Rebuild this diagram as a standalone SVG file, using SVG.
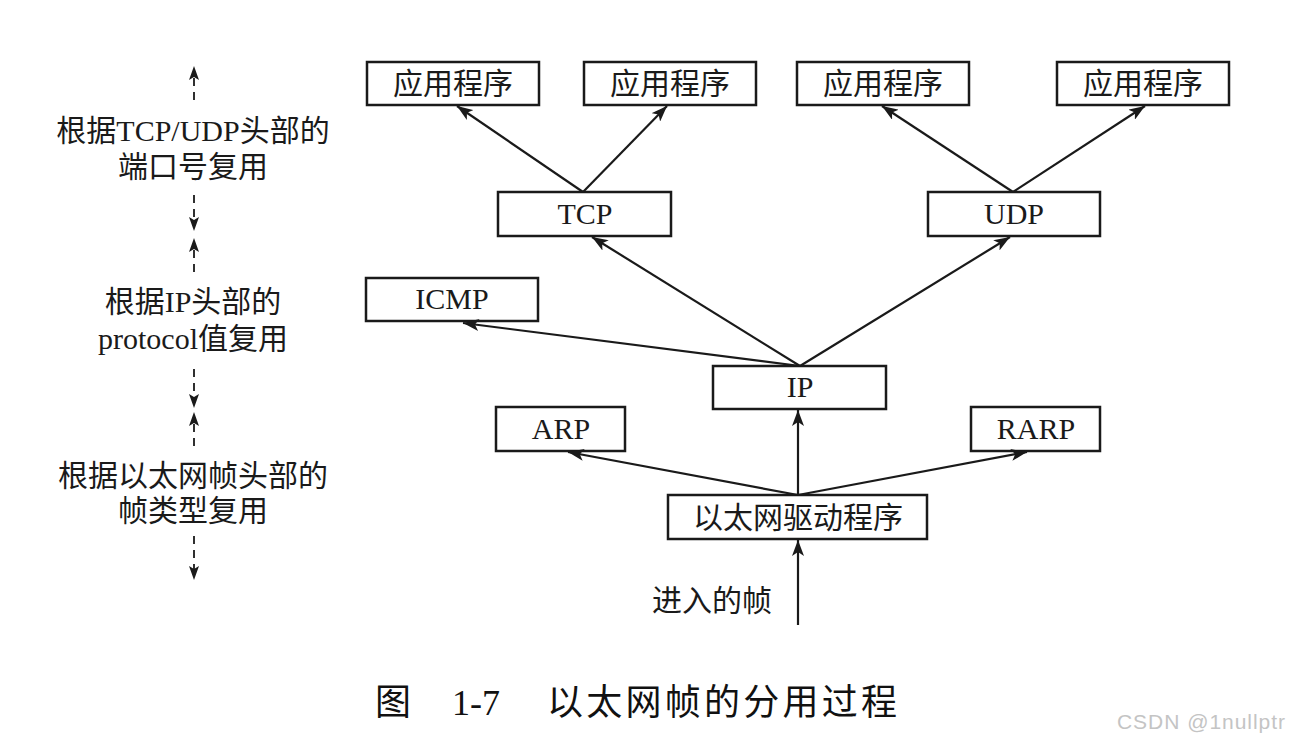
<svg xmlns="http://www.w3.org/2000/svg" width="1292" height="743" viewBox="0 0 1292 743">
<style>
.box{fill:#fff;stroke:#1a1a1a;stroke-width:2.5}
.cj{font-family:"Liberation Serif","Noto Sans CJK SC",serif;font-size:30px;fill:#1a1a1a;text-anchor:middle}
.lt{font-family:"Liberation Serif","Noto Sans CJK SC",serif;font-size:30px;fill:#1a1a1a;text-anchor:middle}
.arr{stroke:#1a1a1a;stroke-width:2.2;fill:none;marker-end:url(#ah)}
.dash{stroke:#1a1a1a;stroke-width:1.8;fill:none;stroke-dasharray:8 6}
.dh{fill:#1a1a1a}
</style>
<defs>
<marker id="ah" markerUnits="userSpaceOnUse" markerWidth="18" markerHeight="12" refX="16" refY="6" orient="auto">
<path d="M0,0 L16,6 L0,12 L4,6 z" fill="#1a1a1a"/>
</marker>
</defs>
<rect width="1292" height="743" fill="#fff"/>

<g id="app1"><rect class="box" x="367" y="62" width="172" height="43"/><text class="cj" x="453" y="94">应用程序</text></g>
<g id="app2"><rect class="box" x="584" y="62" width="172" height="43"/><text class="cj" x="670" y="94">应用程序</text></g>
<g id="app3"><rect class="box" x="797" y="62" width="172" height="43"/><text class="cj" x="883" y="94">应用程序</text></g>
<g id="app4"><rect class="box" x="1057" y="62" width="172" height="43"/><text class="cj" x="1143" y="94">应用程序</text></g>
<g id="tcp"><rect class="box" x="498" y="192" width="173" height="44"/><text class="lt" x="585" y="224">TCP</text></g>
<g id="udp"><rect class="box" x="928" y="192" width="172" height="44"/><text class="lt" x="1014" y="224">UDP</text></g>
<g id="icmp"><rect class="box" x="366" y="278" width="172" height="43"/><text class="lt" x="452" y="309">ICMP</text></g>
<g id="ip"><rect class="box" x="713" y="366" width="173" height="43"/><text class="lt" x="800" y="397">IP</text></g>
<g id="arp"><rect class="box" x="496" y="407" width="129" height="44"/><text class="lt" x="561" y="439">ARP</text></g>
<g id="rarp"><rect class="box" x="971" y="407" width="129" height="44"/><text class="lt" x="1036" y="439">RARP</text></g>
<g id="eth"><rect class="box" x="668" y="495" width="259" height="44"/><text class="cj" x="798" y="528">以太网驱动程序</text></g>

<g id="connectors">
<line class="arr" x1="583" y1="192" x2="457" y2="106"/>
<line class="arr" x1="583" y1="192" x2="667" y2="106"/>
<line class="arr" x1="1013" y1="192" x2="882" y2="106"/>
<line class="arr" x1="1013" y1="192" x2="1145" y2="106"/>
<line class="arr" x1="800" y1="366" x2="592" y2="237"/>
<line class="arr" x1="800" y1="366" x2="1010" y2="237"/>
<line class="arr" x1="800" y1="366" x2="463" y2="323"/>
<line class="arr" x1="798" y1="495" x2="798" y2="410"/>
<line class="arr" x1="798" y1="495" x2="568" y2="452"/>
<line class="arr" x1="798" y1="495" x2="1027" y2="452"/>
<line class="arr" x1="798" y1="625" x2="798" y2="540"/>
</g>

<g id="frame-in"><text class="cj" x="712" y="611">进入的帧</text></g>

<g id="side">
<line class="dash" x1="194" y1="78" x2="194" y2="106"/>
<path class="dh" d="M194,66 L199,80 L194,77 L189,80 z"/>
<text class="lt" x="193" y="141">根据TCP/UDP头部的</text>
<text class="cj" x="193" y="177">端口号复用</text>
<line class="dash" x1="194" y1="195" x2="194" y2="220"/>
<path class="dh" d="M194,231 L199,217 L194,220 L189,217 z"/>
<line class="dash" x1="194" y1="250" x2="194" y2="278"/>
<path class="dh" d="M194,238 L199,252 L194,249 L189,252 z"/>
<text class="lt" x="193" y="312">根据IP头部的</text>
<text class="lt" x="193" y="349">protocol值复用</text>
<line class="dash" x1="194" y1="369" x2="194" y2="397"/>
<path class="dh" d="M194,408 L199,394 L194,397 L189,394 z"/>
<line class="dash" x1="194" y1="424" x2="194" y2="451"/>
<path class="dh" d="M194,412 L199,426 L194,423 L189,426 z"/>
<text class="cj" x="193" y="486">根据以太网帧头部的</text>
<text class="cj" x="193" y="521">帧类型复用</text>
<line class="dash" x1="194" y1="536" x2="194" y2="569"/>
<path class="dh" d="M194,580 L199,566 L194,569 L189,566 z"/>
</g>

<g id="caption">
<text x="375" y="715" font-family="Noto Sans CJK SC,sans-serif" font-size="36" fill="#111">图</text>
<text x="452" y="715" font-family="Liberation Serif,serif" font-size="36" fill="#111">1-7</text>
<text x="547" y="715" font-family="Noto Sans CJK SC,sans-serif" font-size="36" fill="#111" textLength="350">以太网帧的分用过程</text>
</g>
<text x="1117" y="729" font-family="Liberation Sans,sans-serif" font-size="21" fill="#c4c4c4" textLength="168">CSDN @1nullptr</text>
</svg>
